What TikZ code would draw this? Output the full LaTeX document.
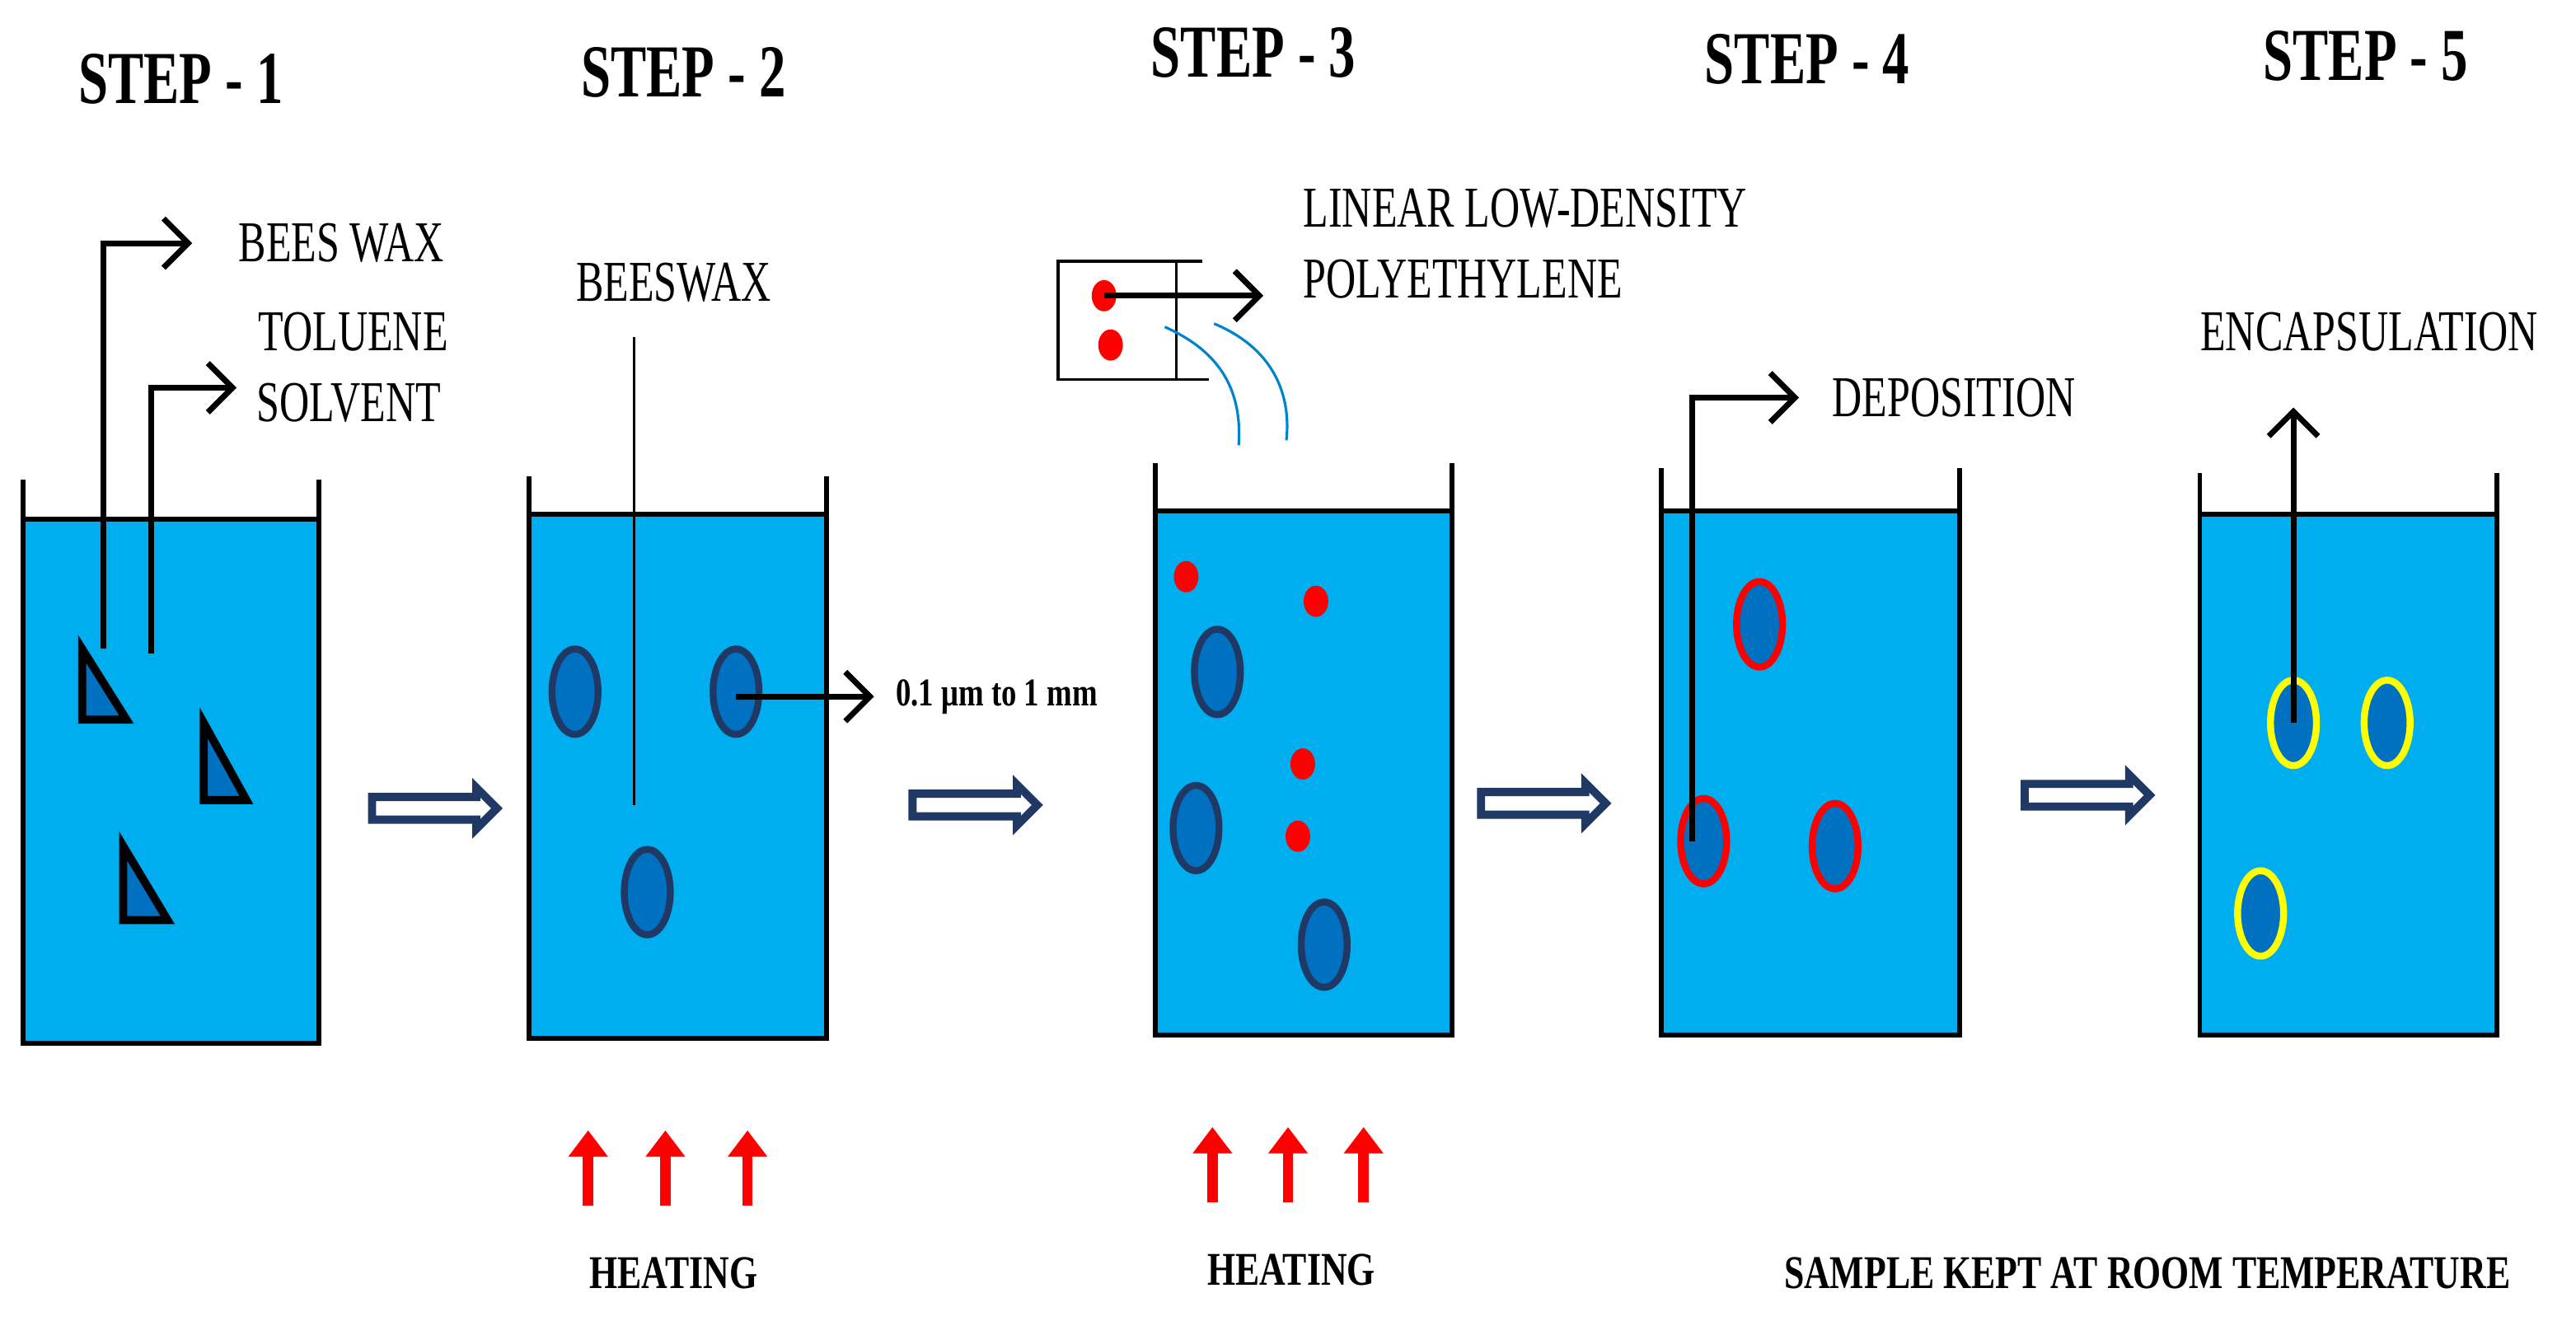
\documentclass[tikz,border=0pt]{standalone}
\usepackage{fontspec}
\setmainfont{Liberation Serif}
\usetikzlibrary{arrows.meta,shapes.geometric,shapes.arrows}
\definecolor{water}{RGB}{0,174,239}
\definecolor{wax}{RGB}{0,112,192}
\definecolor{navy}{RGB}{31,56,100}
\definecolor{lldpe}{RGB}{255,0,0}
\definecolor{shell}{RGB}{255,255,0}
\newcommand{\tall}[1]{\scalebox{1}[1.4]{#1}}
\begin{document}
\begin{tikzpicture}[x=0.02cm,y=-0.02cm]

  \useasboundingbox (0,0) rectangle (1568,804);

  % node styles
  \tikzstyle{Title}=[font=\fontsize{18.5}{20}\selectfont\bfseries,inner sep=0]
  \tikzstyle{Label}=[font=\fontsize{14.3}{16}\selectfont,inner sep=0]
  \tikzstyle{Small}=[font=\fontsize{12.5}{14}\selectfont\bfseries,inner sep=0]
  \tikzstyle{Wax}=[ellipse,draw=navy,fill=wax,line width=2.4pt,
  minimum width=28*0.02cm,minimum height=52*0.02cm,inner sep=0]
  \tikzstyle{Drop}=[ellipse,fill=lldpe,minimum width=0.3cm,minimum height=0.38cm,inner sep=0]
  \tikzstyle{Flake}=[draw=black,fill=wax,line width=2.8pt,line join=miter]
  \tikzstyle{Pointer}=[line width=2pt,-{Straight Barb[length=3mm,width=6mm,line width=2pt]}]
  \tikzstyle{Next}=[single arrow,draw=navy,line width=2.8pt,fill=white,
  minimum height=1.52cm,minimum width=0.5cm,single arrow head extend=0.04cm,
  single arrow head indent=0cm,inner sep=0]
  \tikzstyle{Heat}=[draw=red,line width=3.6pt,-{Triangle[length=3.2mm,width=4.6mm]}]

  % beakers
  \foreach \xa/\xb/\top/\liq/\bot in {14/194/292/316/635, 322/503/290/313/632,
    703/884/282/311/630, 1011/1193/285/311/630, 1339/1520/288/313/630}{
    \fill[water] (\xa,\liq) rectangle (\xb,\bot);
    \draw[line width=1.7pt] (\xa,\top) -- (\xa,\bot) -- (\xb,\bot) -- (\xb,\top);
    \draw[line width=1.7pt] (\xa,\liq) -- (\xb,\liq);
  }

  % titles
  \node[Title] (S1) at (110,48) {\tall{STEP - 1}};
  \node[Title] (S2) at (416,44) {\tall{STEP - 2}};
  \node[Title] (S3) at (763,32) {\tall{STEP - 3}};
  \node[Title] (S4) at (1100,36) {\tall{STEP - 4}};
  \node[Title] (S5) at (1440,34) {\tall{STEP - 5}};

  % step 1
  \draw[Flake] (50,395) -- (50,438) -- (77,438) -- cycle;
  \draw[Flake] (124,440) -- (124,487) -- (150,487) -- cycle;
  \draw[Flake] (75,515) -- (75,560) -- (102,560) -- cycle;
  \coordinate (T1) at (63,395);
  \coordinate (T2) at (92,398);
  \node[Label,anchor=west] (BW)  at (145,148) {\tall{BEES WAX}};
  \node[Label,anchor=west] (TOL) at (157,202) {\tall{TOLUENE}};
  \node[Label,anchor=west] (SOL) at (156,245) {\tall{SOLVENT}};
  \draw[Pointer] (T1) |- ([xshift=-28*0.02cm]BW.west);
  \draw[Pointer] (T2) |- ([xshift=-12*0.02cm]SOL.west |- 0,236);

  \node[Next] (N1) at (261,492) {};

  % step 2
  \node[Wax] (W1) at (350,421) {};
  \node[Wax] (W2) at (448,421) {};
  \node[Wax] (W3) at (394,543) {};
  \node[Label] (BX) at (410,172) {\tall{BEESWAX}};
  \coordinate (B1) at (386,490);
  \draw[line width=1.1pt] (B1) -- (386,205);
  \node[font=\fontsize{10.5}{12}\selectfont\bfseries,anchor=west,inner sep=0]
    (SZ) at (545,424) {\scalebox{1}[1.3]{0.1 μm to 1 mm}};
  \draw[Pointer] (W2.center |- SZ.west) -- ([xshift=-13*0.02cm]SZ.west);

  \node[Next] (N2) at (590,490) {};

  % step 3
  \draw[line width=1.1pt] (732,159) -- (644,159) -- (644,231) -- (736,231);
  \draw[line width=1.1pt] (716,159) -- (716,231);
  \node[Drop] (D1) at (672,180) {};
  \node[Drop] (D2) at (676,210) {};
  \node[Label,anchor=west] (LL) at (793,127) {\tall{LINEAR LOW-DENSITY}};
  \node[Label,anchor=west] (PE) at (793,170) {\tall{POLYETHYLENE}};
  \draw[Pointer] (D1.center) -- (769,180);
  \draw[draw=wax!70!water,line width=0.9pt] (709,199) .. controls (745,215) and (756,240) .. (754,271);
  \draw[draw=wax!70!water,line width=0.9pt] (739,197) .. controls (775,212) and (786,240) .. (783,268);
  \node[Drop] (D3) at (722,351) {};
  \node[Drop] (D4) at (801,366) {};
  \node[Drop] (D5) at (793,465) {};
  \node[Drop] (D6) at (790,509) {};
  \node[Wax] (W4) at (741,409) {};
  \node[Wax] (W5) at (728,504) {};
  \node[Wax] (W6) at (806,575) {};

  \node[Next] (N3) at (936,489) {};

  % step 4
  \node[Wax,draw=lldpe] (C1) at (1071,380) {};
  \node[Wax,draw=lldpe] (C2) at (1037,512) {};
  \node[Wax,draw=lldpe] (C3) at (1117,515) {};
  \node[Label,anchor=west] (DEP) at (1115,242) {\tall{DEPOSITION}};
  \draw[Pointer] ([xshift=-7*0.02cm]C2.center) |- ([xshift=-20*0.02cm]DEP.west);

  \node[Next] (N4) at (1267,484) {};

  % step 5
  \node[Wax,draw=shell] (E1) at (1396,440) {};
  \node[Wax,draw=shell] (E2) at (1453,440) {};
  \node[Wax,draw=shell] (E3) at (1376,556) {};
  \node[Label] (ENC) at (1442,202) {\tall{ENCAPSULATION}};
  \draw[Pointer] (E1.center) -- (1396,248);

  % heating
  \foreach \x in {358,405,455} \draw[Heat] (\x,734) -- (\x,688);
  \foreach \x in {738,784,830} \draw[Heat] (\x,732) -- (\x,686);
  \node[Small] (H1) at (410,775) {\scalebox{1}[1.3]{HEATING}};
  \node[Small] (H2) at (786,773) {\scalebox{1}[1.3]{HEATING}};
  \node[Small] (RT) at (1307,775) {\scalebox{1}[1.3]{SAMPLE KEPT AT ROOM TEMPERATURE}};

\end{tikzpicture}
\end{document}
